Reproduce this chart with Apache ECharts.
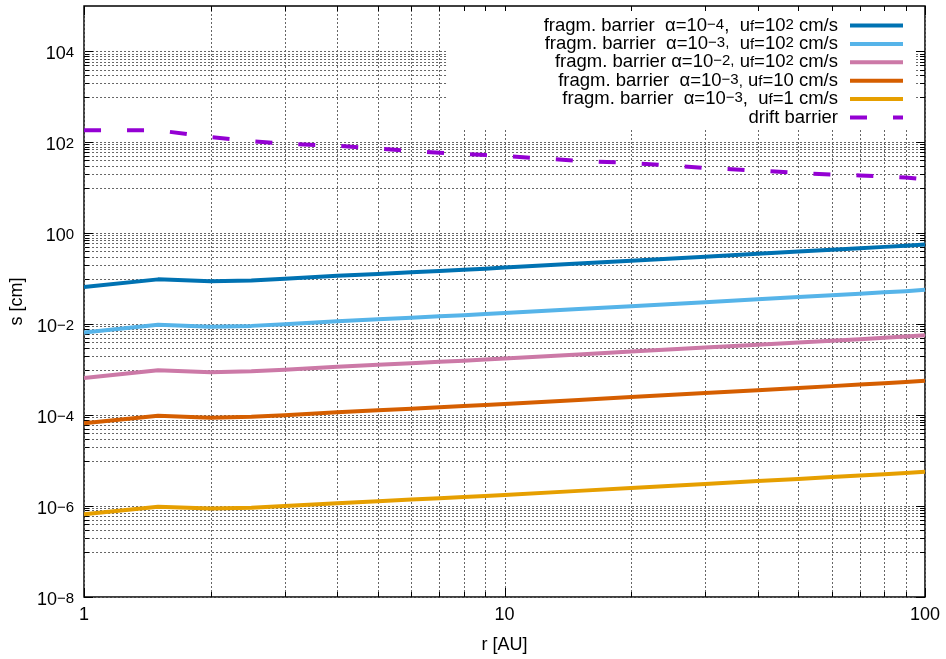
<!DOCTYPE html>
<html><head><meta charset="utf-8">
<script src="https://cdn.jsdelivr.net/npm/echarts@6/dist/echarts.min.js"></script>
<style>html,body{margin:0;padding:0;background:#fff}#c{width:946px;height:659px}</style>
</head><body><div id="c"></div>
<script>
// ---- data ----
const r = [1, 1.5, 2, 2.5, 3, 4, 5, 6, 7, 8, 9, 10, 15, 20, 30, 40, 50, 60, 70, 80, 90, 100];
const fragA4u100 = [0.066, 0.097, 0.088, 0.092, 0.100, 0.116, 0.128, 0.139, 0.149, 0.158, 0.167, 0.176, 0.216, 0.250, 0.306, 0.354, 0.396, 0.435, 0.470, 0.503, 0.534, 0.570];
const fragA3u100 = [0.0066, 0.0097, 0.0088, 0.0092, 0.0100, 0.0116, 0.0128, 0.0139, 0.0149, 0.0158, 0.0167, 0.0176, 0.0216, 0.0250, 0.0306, 0.0354, 0.0396, 0.0435, 0.0470, 0.0503, 0.0534, 0.0570];
const fragA2u100 = [0.00066, 0.00097, 0.00088, 0.00092, 0.00100, 0.00116, 0.00128, 0.00139, 0.00149, 0.00158, 0.00167, 0.00176, 0.00216, 0.00250, 0.00306, 0.00354, 0.00396, 0.00435, 0.00470, 0.00503, 0.00534, 0.00570];
const fragA3u10 = [0.000066, 0.000097, 0.000088, 0.000092, 0.000100, 0.000116, 0.000128, 0.000139, 0.000149, 0.000158, 0.000167, 0.000176, 0.000216, 0.000250, 0.000306, 0.000354, 0.000396, 0.000435, 0.000470, 0.000503, 0.000534, 0.000570];
const fragA3u1 = [6.6e-7, 9.7e-7, 8.8e-7, 9.2e-7, 1.00e-6, 1.16e-6, 1.28e-6, 1.39e-6, 1.49e-6, 1.58e-6, 1.67e-6, 1.76e-6, 2.16e-6, 2.50e-6, 3.06e-6, 3.54e-6, 3.96e-6, 4.35e-6, 4.70e-6, 5.03e-6, 5.34e-6, 5.70e-6];
const drift = [184, 184, 131, 106, 94, 84, 73, 64.5, 59, 55.5, 52.5, 50, 39.4, 35.2, 27.5, 23.9, 21.3, 19.5, 18.8, 17.7, 16.8, 15.3];

// tick positions
const xMajor = [1, 10, 100];
const xMinor = [2, 3, 4, 5, 6, 7, 8, 9, 20, 30, 40, 50, 60, 70, 80, 90];
const yMajor = [1e-8, 1e-6, 1e-4, 1e-2, 1, 1e2, 1e4];
const yMinorMant = [1, 2, 3, 4, 5, 6, 7, 8, 9];
const yMinorExp = [-7, -5, -3, -1, 1, 3];

const colors = ['#0072b2', '#56b4e9', '#cc79a7', '#d55e00', '#e69f00', '#9400d3'];
const FONT = '"Liberation Sans", Arial, Helvetica, sans-serif';

const legendText = {
  f1: '{n|fragm. barrier  α=10}{sp|−4}{n|,  u}{sb|f}{n|=10}{sp|2}{n| cm/s}{g| }',
  f2: '{n|fragm. barrier  α=10}{sp|−3,}{n|  u}{sb|f}{n|=10}{sp|2}{n| cm/s}{g| }',
  f3: '{n|fragm. barrier α=10}{sp|−2,}{n| u}{sb|f}{n|=10}{sp|2}{n| cm/s}{g| }',
  f4: '{n|fragm. barrier  α=10}{sp|−3}{sb|,}{n| u}{sb|f}{n|=10 cm/s}{g| }',
  f5: '{n|fragm. barrier  α=10}{sp|−3}{n|,  u}{sb|f}{n|=1 cm/s}{g| }',
  drift: '{n|drift barrier}{g| }'
};

function pairs(ys) { return r.map((x, i) => [x, ys[i]]); }

const hData = yMajor.map(v => [1, v, 1]);
yMinorExp.forEach(e => yMinorMant.forEach(m => hData.push([1, m * Math.pow(10, e), 0])));
const vData = xMajor.map(v => [v, 1, 1]).concat(xMinor.map(v => [v, 1, 0]));

const GRID_STYLE = { stroke: '#666', lineWidth: 1, lineDash: [2, 2] };
const TICK_STYLE = { stroke: '#000', lineWidth: 1 };

function hRender(params, api) {
  const v = api.value(1), major = api.value(2);
  const cs = params.coordSys;
  const y = Math.round(api.coord([1, v])[1]) + 0.5;
  const x0 = cs.x, x1 = cs.x + cs.width, L = major ? 9 : 5;
  return { type: 'group', children: [
    { type: 'line', shape: { x1: x0, y1: y, x2: x1, y2: y }, style: GRID_STYLE },
    { type: 'line', shape: { x1: x0, y1: y, x2: x0 + L, y2: y }, style: TICK_STYLE },
    { type: 'line', shape: { x1: x1 - L, y1: y, x2: x1, y2: y }, style: TICK_STYLE }
  ]};
}
function vRender(params, api) {
  const v = api.value(0), major = api.value(2);
  const cs = params.coordSys;
  const x = Math.round(api.coord([v, 1])[0]) + 0.5;
  const y0 = cs.y, y1 = cs.y + cs.height, L = major ? 9 : 5;
  return { type: 'group', children: [
    { type: 'line', shape: { x1: x, y1: y0, x2: x, y2: y1 }, style: GRID_STYLE },
    { type: 'line', shape: { x1: x, y1: y1, x2: x, y2: y1 - L }, style: TICK_STYLE },
    { type: 'line', shape: { x1: x, y1: y0, x2: x, y2: y0 + L }, style: TICK_STYLE }
  ]};
}

function lineSeries(name, ys, color, dash) {
  return {
    name: name, type: 'line', data: pairs(ys), symbol: 'none', z: 3,
    lineStyle: { color: color, width: 4, type: dash || 'solid', cap: 'butt', join: 'round' },
    itemStyle: { color: color }, silent: true, animation: false
  };
}

const chart = echarts.init(document.getElementById('c'), null, { renderer: 'canvas' });
chart.setOption({
  animation: false,
  backgroundColor: '#fff',
  textStyle: { fontFamily: FONT, color: '#000' },
  grid: { left: 80, right: 21, top: 6, bottom: 59, show: true, borderColor: '#000', borderWidth: 1.5, backgroundColor: 'transparent' },
  xAxis: {
    type: 'log', logBase: 10, min: 1, max: 100,
    name: 'r [AU]', nameLocation: 'middle', nameGap: 39,
    nameTextStyle: { fontSize: 18, fontFamily: FONT, color: '#000' },
    axisLine: { show: false }, axisTick: { show: false }, splitLine: { show: false },
    axisLabel: { fontSize: 18, fontFamily: FONT, color: '#000', margin: 9 }
  },
  yAxis: {
    type: 'log', logBase: 10, min: 1e-8, max: 1e5, interval: 2,
    name: 's [cm]', nameLocation: 'middle', nameGap: 53, nameRotate: 90,
    nameTextStyle: { fontSize: 18, fontFamily: FONT, color: '#000' },
    axisLine: { show: false }, axisTick: { show: false }, splitLine: { show: false },
    axisLabel: {
      margin: 10, padding: [6, 0, 0, 0],
      formatter: function (v) {
        const e = Math.round(Math.log10(v));
        if (e % 2 !== 0 || e > 4) return '';
        return '{b|10}{s|' + (e < 0 ? '−' + (-e) : e) + '}';
      },
      rich: {
        b: { fontSize: 18, lineHeight: 18, fontFamily: FONT, color: '#000' },
        s: { fontSize: 15, lineHeight: 3, verticalAlign: 'top', fontFamily: FONT, color: '#000' }
      }
    }
  },
  legend: {
    orient: 'vertical', right: 31, top: 11, align: 'right',
    padding: [5, 10, 2, 96], itemGap: -0.6, itemWidth: 53, itemHeight: 14,
    backgroundColor: '#fff', selectedMode: false,
    lineStyle: { width: 4 },
    itemStyle: { color: 'rgba(0,0,0,0)', borderColor: 'rgba(0,0,0,0)', borderWidth: 0, opacity: 0 },
    data: ['f1', 'f2', 'f3', 'f4', 'f5', 'drift'],
    formatter: function (name) { return legendText[name]; },
    textStyle: {
      fontFamily: FONT, fontSize: 18.5, color: '#000',
      rich: {
        n: { fontSize: 18.5, lineHeight: 17, fontFamily: FONT, color: '#000' },
        sp: { fontSize: 15, lineHeight: 0.5, verticalAlign: 'top', fontFamily: FONT, color: '#000' },
        sb: { fontSize: 15, lineHeight: 9, verticalAlign: 'bottom', fontFamily: FONT, color: '#000' },
        g: { fontSize: 18.5, lineHeight: 17, width: 7 }
      }
    }
  },
  series: [
    { type: 'custom', name: 'hgrid', data: hData, encode: { x: 0, y: 1 }, renderItem: hRender, silent: true, z: 1, clip: false },
    { type: 'custom', name: 'vgrid', data: vData, encode: { x: 0, y: 1 }, renderItem: vRender, silent: true, z: 1, clip: false },
    lineSeries('f1', fragA4u100, colors[0]),
    lineSeries('f2', fragA3u100, colors[1]),
    lineSeries('f3', fragA2u100, colors[2]),
    lineSeries('f4', fragA3u10, colors[3]),
    lineSeries('f5', fragA3u1, colors[4]),
    lineSeries('drift', drift, colors[5], [17, 26])
  ]
});
</script>
</body></html>
